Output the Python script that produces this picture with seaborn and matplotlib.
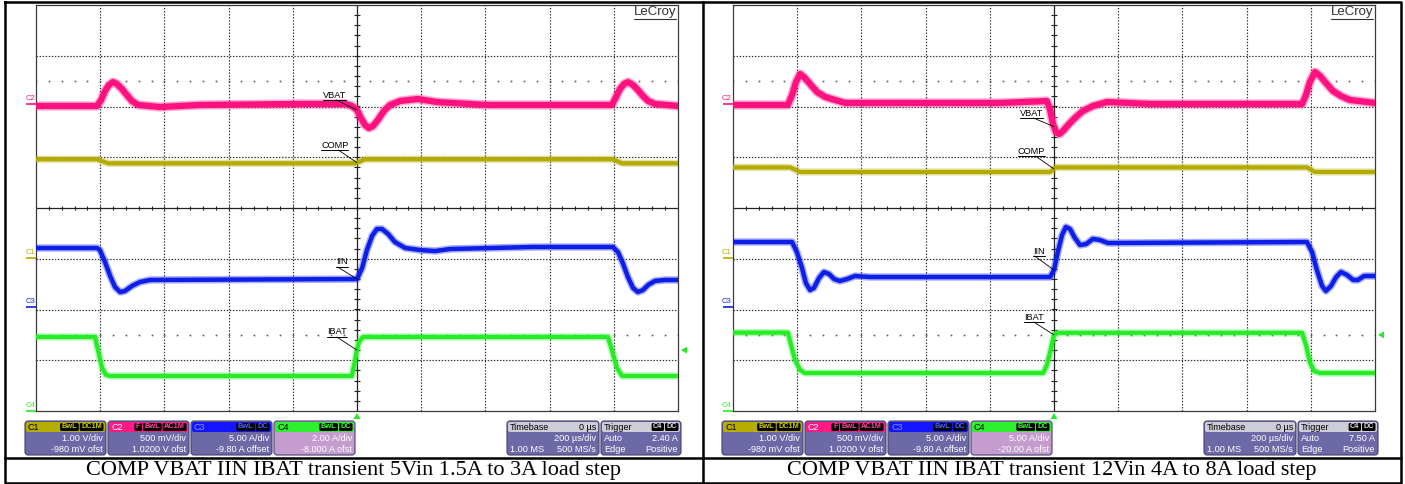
import numpy as np
import pandas as pd
import matplotlib
matplotlib.use("Agg")
import matplotlib.pyplot as plt
from matplotlib.patches import FancyBboxPatch, Polygon
import seaborn as sns

# ------------------------------------------------------------------
# Captured records, time in microseconds (trigger at t = 0)
# ------------------------------------------------------------------
# 5 Vin, 1.5 A <-> 3 A load step
comp5_t = [-1000, -810, -775, -5, 25, 797, 826, 1000]
comp5_v = [1.94, 1.94, 1.86, 1.86, 1.94, 1.94, 1.86, 1.86]  # V

vbat5_t = [-1000, -810, -797, -785, -773, -760, -748, -732, -717, -701, -682,
           -614, -489, -178, -37, -16,
           0, 12, 25, 37, 50, 65, 84, 103,
           134, 190, 249, 405,
           794, 807, 819, 832, 844, 860, 875, 891, 907, 928, 1000]
vbat5_v = [-0.015, -0.015, 0.044, 0.133, 0.192, 0.221, 0.202, 0.152, 0.093, 0.034, -0.005,
           -0.025, -0.005, 0.005, 0.005, -0.015,
           -0.055, -0.133, -0.202, -0.232, -0.212, -0.153, -0.064, -0.005,
           0.034, 0.054, 0.024, -0.005,
           -0.005, 0.074, 0.152, 0.202, 0.221, 0.192, 0.143, 0.083, 0.034, 0.005, -0.015]  # V, AC

iin5_t = [-1000, -810, -801, -785, -769, -754, -738, -723, -701, -676, -645,
          0, 16, 31, 47, 62, 78, 97, 118, 150, 196, 243, 290, 548,
          797, 813, 828, 844, 860, 875, 891, 907, 928, 960, 1000]
iin5_a = [5.86, 5.86, 5.66, 4.48, 3.10, 2.02, 1.52, 1.62, 2.12, 2.51, 2.71,
          2.80, 3.89, 5.66, 7.05, 7.73, 7.73, 7.24, 6.45, 5.86, 5.66, 5.56, 5.76, 5.96,
          5.96, 5.46, 4.38, 3.00, 1.92, 1.52, 1.72, 2.22, 2.61, 2.71, 2.71]

ibat5_t = [-1000, -816, -807, -794, -782, -769, -16, -6, 0, 6, 19, 782, 794, 810, 826, 1000]
ibat5_a = [2.92, 2.92, 2.40, 1.69, 1.42, 1.38, 1.38, 2.00, 2.40, 2.72, 2.92, 2.92, 2.40, 1.69, 1.38, 1.38]

# 12 Vin, 4 A <-> 8 A load step
comp12_t = [-1000, -822, -791, -12, 6, 788, 813, 1000]
comp12_v = [1.78, 1.78, 1.69, 1.69, 1.78, 1.78, 1.69, 1.69]

vbat12_t = [-1000, -829, -816, -804, -791, -779, -760, -738, -713, -682, -651,
            -168,
            -22, -12, -3, 6, 16, 28, 44, 65, 90, 121, 165, 299,
            773, 785, 797, 813, 829, 847, 869, 894, 922, 1000]
vbat12_v = [-0.005, -0.005, 0.093, 0.221, 0.300, 0.271, 0.202, 0.123, 0.074, 0.044, 0.015,
            0.015,
            0.034, -0.055, -0.192, -0.271, -0.291, -0.261, -0.202, -0.133, -0.064, -0.015, 0.024, 0.005,
            0.005, 0.093, 0.221, 0.320, 0.280, 0.212, 0.133, 0.083, 0.044, 0.015]

iin12_t = [-1000, -816, -801, -785, -773, -760, -748, -732, -717, -701, -685, -667, -645, -620, -573,
           -12, 0, 12, 25, 37, 50, 65, 81, 100, 121, 143, 168,
           788, 804, 819, 835, 847, 863, 879, 894, 913, 932, 947, 966, 1000]
iin12_a = [6.45, 6.45, 5.46, 3.89, 2.41, 1.72, 1.92, 2.90, 3.49, 3.30, 2.80, 2.61, 2.80, 3.10, 3.00,
           3.00, 3.69, 5.46, 7.14, 7.93, 7.73, 6.85, 6.15, 6.25, 6.75, 6.65, 6.35,
           6.45, 5.46, 3.69, 2.12, 1.62, 2.12, 3.00, 3.49, 3.20, 2.71, 2.71, 3.10, 3.10]

ibat12_t = [-1000, -829, -819, -807, -791, -776, -34, -22, -9, 0, 12, 773, 785, 797, 810, 829, 1000]
ibat12_a = [7.72, 7.72, 6.50, 5.03, 4.04, 3.74, 3.74, 4.53, 6.21, 7.50, 7.70, 7.70, 6.50, 4.83, 3.94, 3.74, 3.74]

# Vertical settings per channel: units/div and offset
scale_5 = {"C1": 1.0, "C2": 0.5, "C3": 5.0, "C4": 2.0}
offset_5 = {"C1": -0.98, "C2": 1.02, "C3": -9.8, "C4": -8.0}
scale_12 = {"C1": 1.0, "C2": 0.5, "C3": 5.0, "C4": 5.0}
offset_12 = {"C1": -0.98, "C2": 1.02, "C3": -9.8, "C4": -20.0}
trig_level_5 = 2.4
trig_level_12 = 7.5

box_text_5 = {"C1": ("1.00 V/div", "-980 mV ofst"),
              "C2": ("500 mV/div", "1.0200 V ofst"),
              "C3": ("5.00 A/div", "-9.80 A offset"),
              "C4": ("2.00 A/div", "-8.000 A ofst")}
box_text_12 = {"C1": ("1.00 V/div", "-980 mV ofst"),
               "C2": ("500 mV/div", "1.0200 V ofst"),
               "C3": ("5.00 A/div", "-9.80 A offset"),
               "C4": ("5.00 A/div", "-20.00 A ofst")}
trig_text_5 = "2.40 A"
trig_text_12 = "7.50 A"
caption_5 = "COMP VBAT IIN IBAT transient 5Vin 1.5A to 3A load step"
caption_12 = "COMP VBAT IIN IBAT transient 12Vin 4A to 8A load step"

# ------------------------------------------------------------------
# Styling
# ------------------------------------------------------------------
sns.set_theme(style="white")
plt.rcParams["font.family"] = ["Liberation Sans", "DejaVu Sans"]

TRACE = {"C1": "#b3ac00", "C2": "#ff1180", "C3": "#0c1ee8", "C4": "#25ec25"}
HEADER = {"C1": "#b5ad00", "C2": "#ff1a84", "C3": "#1414ff", "C4": "#2ff02f"}
TITLE_COL = {"C1": "black", "C2": "white", "C3": "#8c94ff", "C4": "black"}
BADGE_COL = {"C1": "#d6cf00", "C2": "#ff4da0", "C3": "#4a66ff", "C4": "#3cff3c"}
BADGES = {"C1": ["BwL", "DC1M"], "C2": ["F", "BwL", "AC1M"], "C3": ["BwL", "DC"], "C4": ["BwL", "DC"]}
BODY = "#6d69a6"
BODY_SEL = "#c49ccd"
GRID_COL = "#2e2e2e"
GRID_LS = (0, (1.2, 1.4))

W, H = 1405, 484
GY0, GW, GH = 5, 642, 406

fig = plt.figure(figsize=(W / 100, H / 100), dpi=100)
fig.patch.set_facecolor("white")
renderer = fig.canvas.get_renderer()

ov = fig.add_axes([0, 0, 1, 1], zorder=10)
ov.set_xlim(0, W)
ov.set_ylim(H, 0)
ov.set_axis_off()
ov.patch.set_visible(False)


def text_width(t):
    return t.get_window_extent(renderer=renderer).width


def info_box(x, w, head_fc, body_fc, title, title_col, badges, badge_col, left_lines, right_lines):
    y0, hh, h = 421, 10, 34
    ov.add_patch(FancyBboxPatch((x, y0), w, h, boxstyle="round,pad=0,rounding_size=3",
                                fc=body_fc, ec="#45426e", lw=0.8))
    ov.add_patch(FancyBboxPatch((x + 1, y0 + 1), w - 2, hh, boxstyle="round,pad=0,rounding_size=2",
                                fc=head_fc, ec="none"))
    ov.text(x + 3, y0 + 6, title, fontsize=6.5, color=title_col, ha="left", va="center")
    xr = x + w - 2.5
    for b in reversed(badges):
        t = ov.text(xr - 1.5, y0 + 6, b, fontsize=5.3, fontweight="bold", color=badge_col,
                    ha="right", va="center", zorder=12)
        bw = text_width(t) + 3
        ov.add_patch(FancyBboxPatch((xr - bw, y0 + 2), bw, 8, boxstyle="round,pad=0,rounding_size=1.5",
                                    fc="black", ec="none", zorder=11))
        xr -= bw + 1
    for i, s in enumerate(right_lines):
        if s:
            ov.text(x + w - 3, y0 + 17.5 + 11 * i, s, fontsize=6.6, color="white", ha="right", va="center")
    for i, s in enumerate(left_lines):
        if s:
            ov.text(x + 3, y0 + 17.5 + 11 * i, s, fontsize=6.6, color="white", ha="left", va="center")


def draw_panel(gx, traces, scale, offset, trig_level, labels, box_text, trig_text, caption, cell):
    cx = gx + GW / 2

    def px(t):
        return gx + (t + 1000) / 2000 * GW

    def py(d):
        return GY0 + (4 - d) / 8 * GH

    ax = fig.add_axes([gx / W, 1 - (GY0 + GH) / H, GW / W, GH / H], zorder=2)
    ax.set_facecolor("white")
    ax.set_xlim(-1000, 1000)
    ax.set_ylim(-4, 4)
    ax.set_xticks([])
    ax.set_yticks([])
    for s in ax.spines.values():
        s.set_color("#3a3a3a")
        s.set_linewidth(0.9)

    # graticule
    for x in range(-800, 1000, 200):
        if x != 0:
            ax.axvline(x, color=GRID_COL, lw=0.85, ls=GRID_LS, zorder=1)
    for y in range(-3, 4):
        if y != 0:
            ax.axhline(y, color=GRID_COL, lw=0.85, ls=GRID_LS, zorder=1)
    ax.axhline(0, color="#222222", lw=0.9, zorder=1)
    ax.axvline(0, color="#222222", lw=0.9, zorder=1)
    tx = np.arange(-1000, 1001, 40)
    ax.vlines(tx, -0.045, 0.045, color="#222222", lw=0.8, zorder=1)
    ty = np.arange(-4, 4.001, 0.2)
    ax.hlines(ty, -9.5, 9.5, color="#222222", lw=0.8, zorder=1)
    for yy in (2.5, -2.5):
        ax.plot(tx, np.full_like(tx, yy, dtype=float), ls="none", marker="s", ms=1.2,
                color="#5a5a5a", mew=0, zorder=1)

    # traces
    trace_div = {}
    for name, ch, t, v, lw in traces:
        d = (np.asarray(v, dtype=float) + offset[ch]) / scale[ch]
        df = pd.DataFrame({"t": t, "div": d})
        sns.lineplot(data=df, x="t", y="div", ax=ax, color=TRACE[ch], lw=lw + 2.2, alpha=0.35,
                     sort=False, estimator=None, legend=False, zorder=3)
        sns.lineplot(data=df, x="t", y="div", ax=ax, color=TRACE[ch], lw=lw,
                     sort=False, estimator=None, legend=False, zorder=4)
        trace_div[name] = (t, d)
    for ln in ax.lines:
        ln.set_solid_joinstyle("round")
    ax.set_xlabel("")
    ax.set_ylabel("")

    # trace labels with leaders to the trigger point
    for name, dx, yc in labels:
        t, d = trace_div[name]
        tt = ov.text(cx + dx, yc, name, fontsize=6.6, color="black", ha="left", va="center")
        w = text_width(tt)
        x0, x1 = cx + dx, cx + dx + w
        yu = yc + 5
        ov.plot([x0, x1], [yu, yu], color="black", lw=0.7)
        ov.plot([max(x0, x1 - 10), px(0)], [yu, py(np.interp(0, t, d))], color="black", lw=0.6)

    # channel ground markers
    for ch in ("C2", "C1", "C3", "C4"):
        yl = py(offset[ch] / scale[ch])
        ov.plot([gx - 10, gx], [yl, yl], color=TRACE[ch], lw=1.2, solid_capstyle="butt")
        ov.text(gx - 6, yl - 5.5, ch, fontsize=5.5, color=TRACE[ch], ha="center", va="center")

    # trigger markers
    xt = px(0)
    ov.add_patch(Polygon([[xt, GY0 + GH + 2], [xt - 3.5, GY0 + GH + 8], [xt + 3.5, GY0 + GH + 8]],
                         closed=True, fc=TRACE["C4"], ec="none"))
    yt = py((trig_level + offset["C4"]) / scale["C4"])
    ov.add_patch(Polygon([[gx + GW + 3, yt], [gx + GW + 9, yt - 3.5], [gx + GW + 9, yt + 3.5]],
                         closed=True, fc=TRACE["C4"], ec="none"))

    # logo
    lg = ov.text(gx + GW - 2, 12.5, "LeCroy", fontsize=9.5, color="#333333", ha="right", va="center")
    lw_ = text_width(lg)
    ov.plot([gx + GW - 2 - lw_, gx + GW - 2], [18.5, 18.5], color="#333333", lw=0.8)

    # channel info boxes
    bx = gx - 11
    for i, ch in enumerate(("C1", "C2", "C3", "C4")):
        info_box(bx + 83 * i, 81, HEADER[ch], BODY_SEL if ch == "C4" else BODY, ch, TITLE_COL[ch],
                 BADGES[ch], BADGE_COL[ch], [], list(box_text[ch]))
    # timebase / trigger boxes
    tbx = gx + 471
    info_box(tbx, 92, "#cdcdd8", BODY, "Timebase", "black", [], "black",
             ["", "1.00 MS"], ["200 µs/div", "500 MS/s"])
    ov.text(tbx + 92 - 3, 427, "0 µs", fontsize=6.5, color="black", ha="right", va="center")
    info_box(tbx + 94, 80, "#cdcdd8", BODY, "Trigger", "black", ["C4", "DC"], "#dddddd",
             ["Auto", "Edge"], [trig_text, "Positive"])

    # caption
    ov.text((cell[0] + cell[1]) / 2, 471, caption, family="Liberation Serif", fontsize=16,
            color="black", ha="center", va="center")


labels_5 = [("VBAT", -34, 95), ("COMP", -36, 145), ("IIN", -21, 262), ("IBAT", -30, 332)]
labels_12 = [("VBAT", -34, 113), ("COMP", -36, 151), ("IIN", -21, 251), ("IBAT", -30, 317)]

draw_panel(36,
           [("VBAT", "C2", vbat5_t, vbat5_v, 4.5), ("COMP", "C1", comp5_t, comp5_v, 3.0),
            ("IIN", "C3", iin5_t, iin5_a, 3.2), ("IBAT", "C4", ibat5_t, ibat5_a, 3.0)],
           scale_5, offset_5, trig_level_5, labels_5, box_text_5, trig_text_5, caption_5, (5, 703))
draw_panel(733,
           [("VBAT", "C2", vbat12_t, vbat12_v, 4.5), ("COMP", "C1", comp12_t, comp12_v, 3.0),
            ("IIN", "C3", iin12_t, iin12_a, 3.2), ("IBAT", "C4", ibat12_t, ibat12_a, 3.0)],
           scale_12, offset_12, trig_level_12, labels_12, box_text_12, trig_text_12, caption_12, (703, 1400))

# table frame
frame_kw = dict(color="black", lw=1.8, solid_capstyle="projecting")
ov.plot([5, 1400.5, 1400.5, 5, 5], [2, 2, 482.5, 482.5, 2], **frame_kw)
ov.plot([703, 703], [2, 482.5], **frame_kw)
ov.plot([5, 1400.5], [457.7, 457.7], **frame_kw)

fig.savefig("out.png", dpi=100, facecolor="white")
